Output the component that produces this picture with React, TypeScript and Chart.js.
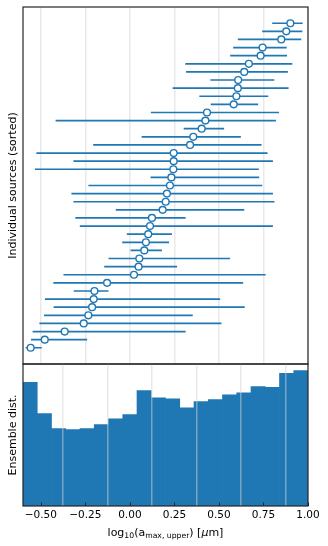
import React, { useEffect, useRef } from "react";
import { Chart, registerables } from "chart.js";

Chart.register(...registerables);

// ---- Data (bottom row first) ----
const sourceMedians = [-0.557, -0.478, -0.366, -0.259, -0.233, -0.212, -0.203, -0.199, -0.128, 0.023, 0.049, 0.053, 0.081, 0.090, 0.103, 0.113, 0.124, 0.184, 0.201, 0.208, 0.225, 0.233, 0.244, 0.246, 0.246, 0.338, 0.356, 0.403, 0.424, 0.433, 0.583, 0.598, 0.606, 0.608, 0.642, 0.668, 0.734, 0.745, 0.850, 0.878, 0.901];
const sourceLows = [-0.585, -0.555, -0.546, -0.508, -0.482, -0.428, -0.477, -0.315, -0.430, -0.373, -0.144, -0.120, 0.004, -0.043, -0.017, -0.281, -0.306, -0.079, -0.317, -0.328, -0.233, 0.116, -0.533, -0.317, -0.525, -0.206, 0.066, 0.302, -0.417, 0.118, 0.454, 0.390, 0.240, 0.452, 0.315, 0.311, 0.563, 0.580, 0.606, 0.743, 0.799];
const sourceHighs = [-0.495, -0.240, 0.313, 0.514, 0.353, 0.645, 0.507, -0.120, 0.636, 0.762, 0.265, 0.563, 0.180, 0.220, 0.236, 0.803, 0.313, 0.642, 0.812, 0.803, 0.743, 0.726, 0.724, 0.803, 0.773, 0.739, 0.623, 0.529, 0.820, 0.837, 0.720, 0.777, 0.891, 0.811, 0.887, 0.912, 0.882, 0.880, 0.962, 0.968, 0.970];

const binCenters = [-0.56, -0.48, -0.40, -0.32, -0.24, -0.16, -0.08, 0.00, 0.08, 0.16, 0.24, 0.32, 0.40, 0.48, 0.56, 0.64, 0.72, 0.80, 0.88, 0.96];
const binHeights = [372, 278, 233, 230, 233, 245, 262, 275, 347, 325, 322, 295, 314, 320, 334, 340, 359, 357, 399, 407];

const xTicks = [-0.5, -0.25, 0, 0.25, 0.5, 0.75, 1.0];
const X_MIN = -0.6;
const X_MAX = 1.0;

const BLUE = "#1f77b4";
const FONT = '"DejaVu Sans", sans-serif';
const GRID = "rgba(211,211,211,0.5)";

const fmtTick = (v: number) => (v < 0 ? "\u2212" : "") + Math.abs(v).toFixed(2);

const framePlugin = {
  id: "frame",
  afterDraw(chart: any) {
    const { ctx, chartArea: a } = chart;
    ctx.save();
    ctx.strokeStyle = "#262626";
    ctx.lineWidth = 1.2;
    ctx.strokeRect(a.left, a.top, a.right - a.left, a.bottom - a.top);
    ctx.restore();
  },
};

const yTitlePlugin = (text: string) => ({
  id: "ytitle",
  afterDraw(chart: any) {
    const { ctx, chartArea: a } = chart;
    ctx.save();
    ctx.translate(13, (a.top + a.bottom) / 2);
    ctx.rotate(-Math.PI / 2);
    ctx.font = `11px ${FONT}`;
    ctx.fillStyle = "#000";
    ctx.textAlign = "center";
    ctx.textBaseline = "middle";
    ctx.fillText(text, 0, 0);
    ctx.restore();
  },
});

const xExtrasPlugin = {
  id: "xextras",
  afterDraw(chart: any) {
    const { ctx, chartArea: a } = chart;
    const xs = chart.scales.x;
    ctx.save();
    // inward tick marks
    ctx.strokeStyle = "#262626";
    ctx.lineWidth = 1;
    xTicks.forEach((t) => {
      const px = Math.round(xs.getPixelForValue(t)) + 0.5;
      ctx.beginPath();
      ctx.moveTo(px, a.bottom);
      ctx.lineTo(px, a.bottom - 3.5);
      ctx.stroke();
    });
    // axis title with subscripts
    const segs = [
      { t: "log", sub: false, it: false },
      { t: "10", sub: true, it: false },
      { t: "(a", sub: false, it: false },
      { t: "max, upper", sub: true, it: false },
      { t: ") [", sub: false, it: false },
      { t: "\u03bc", sub: false, it: true },
      { t: "m]", sub: false, it: false },
    ];
    const fontFor = (s: any) => `${s.it ? "italic " : ""}${s.sub ? 7.7 : 11}px ${FONT}`;
    let total = 0;
    segs.forEach((s) => {
      ctx.font = fontFor(s);
      total += ctx.measureText(s.t).width;
    });
    let x = (a.left + a.right) / 2 - total / 2;
    const base = a.bottom + 29.5;
    ctx.fillStyle = "#000";
    ctx.textAlign = "left";
    ctx.textBaseline = "alphabetic";
    segs.forEach((s) => {
      ctx.font = fontFor(s);
      ctx.fillText(s.t, x, base + (s.sub ? 2.5 : 0));
      x += ctx.measureText(s.t).width;
    });
    ctx.restore();
  },
};

export default function App() {
  const topRef = useRef<HTMLCanvasElement>(null);
  const botRef = useRef<HTMLCanvasElement>(null);

  useEffect(() => {
    const barData: any[] = [];
    sourceMedians.forEach((_, i) => {
      barData.push({ x: sourceLows[i], y: i });
      barData.push({ x: sourceHighs[i], y: i });
      barData.push({ x: sourceMedians[i], y: null });
    });
    const pointData = sourceMedians.map((m, i) => ({ x: m, y: i }));

    const top = new Chart(topRef.current!, {
      type: "line",
      data: {
        datasets: [
          {
            type: "scatter",
            data: pointData,
            order: 0,
            pointRadius: 3.4,
            pointBorderWidth: 1.4,
            pointBackgroundColor: "#ffffff",
            pointBorderColor: BLUE,
            showLine: false,
          } as any,
          {
            type: "line",
            data: barData,
            order: 1,
            borderColor: BLUE,
            borderWidth: 1.7,
            pointRadius: 0,
            spanGaps: false,
            fill: false,
          } as any,
        ],
      },
      options: {
        animation: false,
        responsive: false,
        events: [],
        layout: { autoPadding: false, padding: { left: 23, top: 7, right: 20, bottom: 1 } },
        plugins: { legend: { display: false }, tooltip: { enabled: false } },
        scales: {
          x: {
            type: "linear",
            min: X_MIN,
            max: X_MAX,
            offset: false,
            afterBuildTicks: (s: any) => {
              s.ticks = xTicks.map((v) => ({ value: v }));
            },
            afterFit: (s: any) => {
              s.height = 0;
            },
            ticks: { display: false },
            border: { display: false },
            grid: { color: GRID, lineWidth: 1.5, drawTicks: false },
          },
          y: { type: "linear", min: -2, max: 42, display: false },
        },
      },
      plugins: [framePlugin, yTitlePlugin("Individual sources (sorted)")],
    });

    const bot = new Chart(botRef.current!, {
      type: "bar",
      data: {
        datasets: [
          {
            data: binCenters.map((c, i) => ({ x: c, y: binHeights[i] })),
            backgroundColor: BLUE,
            borderWidth: 0,
            barPercentage: 1,
            categoryPercentage: 1,
          },
        ],
      },
      options: {
        animation: false,
        responsive: false,
        events: [],
        layout: { autoPadding: false, padding: { left: 23, top: 1, right: 20, bottom: 0 } },
        plugins: { legend: { display: false }, tooltip: { enabled: false } },
        scales: {
          x: {
            type: "linear",
            min: X_MIN,
            max: X_MAX,
            offset: false,
            afterBuildTicks: (s: any) => {
              s.ticks = xTicks.map((v) => ({ value: v }));
            },
            afterFit: (s: any) => {
              s.height = 40;
            },
            ticks: {
              display: true,
              maxRotation: 0,
              autoSkip: false,
              padding: 2.5,
              color: "#000",
              font: { family: FONT, size: 10.5 },
              callback: (v: any) => fmtTick(Number(v)),
            },
            border: { display: false },
            grid: { color: GRID, lineWidth: 1.5, drawTicks: false, z: 1 },
          },
          y: { type: "linear", min: 0, max: 427, display: false },
        },
      },
      plugins: [framePlugin, yTitlePlugin("Ensemble dist."), xExtrasPlugin],
    });

    return () => {
      top.destroy();
      bot.destroy();
    };
  }, []);

  return (
    <div style={{ position: "absolute", left: 0, top: 0, width: 328, height: 546, background: "#fff" }}>
      <canvas ref={topRef} width={328} height={365} style={{ position: "absolute", left: 0, top: 0, width: 328, height: 365 }} />
      <canvas ref={botRef} width={328} height={183} style={{ position: "absolute", left: 0, top: 363, width: 328, height: 183 }} />
    </div>
  );
}
